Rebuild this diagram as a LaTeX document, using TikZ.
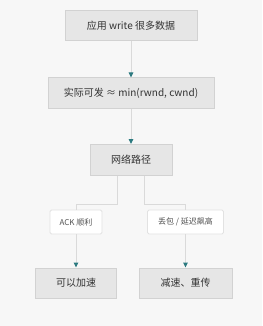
\documentclass[tikz,border=0pt]{standalone}
\usepackage{fontspec}
\setmainfont{Noto Sans CJK SC}
\usepackage{tikz}
\usetikzlibrary{arrows.meta, positioning}

\definecolor{bgcol}{HTML}{F7F7F7}
\definecolor{boxfill}{HTML}{E6E6E6}
\definecolor{boxline}{HTML}{D2D2D2}
\definecolor{tagline}{HTML}{E2E2E2}
\definecolor{wire}{HTML}{DADADA}
\definecolor{tipcol}{HTML}{2C7A80}
\definecolor{txt}{HTML}{333333}

\begin{document}
\begin{tikzpicture}[node distance=67pt,
    box/.style={rectangle, draw=boxline, line width=1pt, fill=boxfill, text=txt,
        font=\fontsize{10pt}{12pt}\selectfont, minimum height=30pt, inner sep=0pt},
    tag/.style={rectangle, rounded corners=1.5pt, draw=tagline, line width=0.8pt, fill=white,
        text=txt!85, font=\fontsize{8pt}{10pt}\selectfont, minimum height=24pt, inner sep=0pt},
    wire/.style={draw=wire, line width=1pt},
    go/.style={wire, -{Triangle[width=4.5pt, length=5pt, color=tipcol]}}]
    \useasboundingbox [fill=bgcol] (0,0) rectangle (262pt,-326pt);

    \node (app) [box, minimum width=132pt] at (131pt,-26pt) {应用 write 很多数据};
    \node (send) [box, below of=app, minimum width=166pt] {实际可发 ≈ min(rwnd, cwnd)};
    \node (net) [box, below of=send, minimum width=82pt, minimum height=31pt] {网络路径};

    \node (ack) [tag, below of=net, xshift=-55pt, yshift=5pt, minimum width=52pt] {ACK 顺利};
    \node (loss) [tag, below of=net, xshift=54.5pt, yshift=5pt, minimum width=76pt] {丢包 / 延迟飙高};

    \node (fast) [box, below of=ack, yshift=6pt, minimum width=81pt] {可以加速};
    \node (slow) [box, below of=loss, yshift=6pt, minimum width=93pt] {减速、重传};

    \draw [go] (app) -- (send);
    \draw [go] (send) -- (net);
    \draw [wire] ([xshift=-14pt]net.south) -- ++(0,-28pt) -| (ack.north);
    \draw [wire] ([xshift=13pt]net.south) -- ++(0,-28pt) -| (loss.north);
    \draw [go] (ack) -- (fast);
    \draw [go] (loss) -- (slow);
\end{tikzpicture}
\end{document}
